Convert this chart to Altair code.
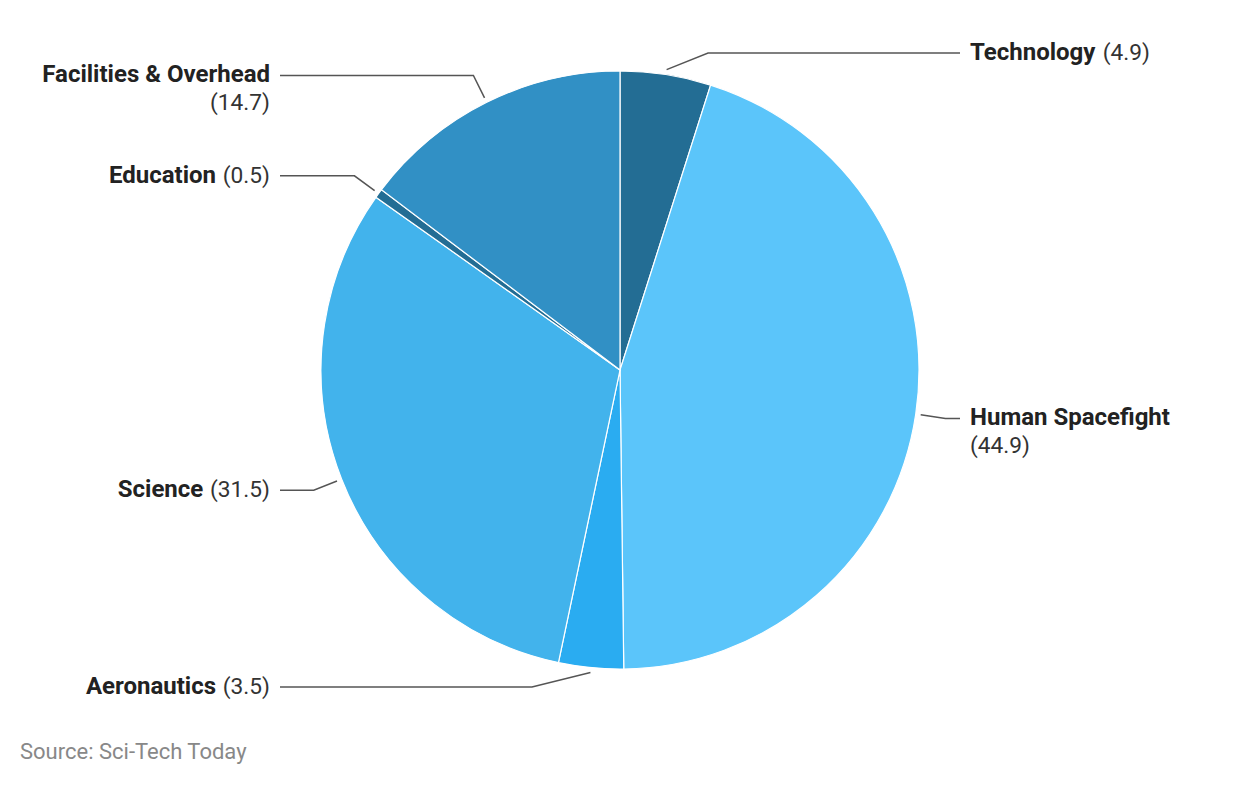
import math
import altair as alt
import pandas as pd

categories = ["Technology", "Human Spacefight", "Aeronautics", "Science", "Education", "Facilities & Overhead"]
values = [4.9, 44.9, 3.5, 31.5, 0.5, 14.7]
colors = ["#236d94", "#5bc5fa", "#2aacf1", "#42b3ec", "#236d94", "#3190c5"]
source_text = "Source: Sci-Tech Today"

# layout (page coordinates)
W, H, M = 1224, 770, 8
CX, CY, R = 620, 370, 299
RL = R + 30          # radius of the leader elbows
YLIM = 317           # max vertical distance of a label row from centre
FS, FSB = 22.7, 24
LEFT_END, RIGHT_END = 280, 960
LEFT_TXT, RIGHT_TXT = 270, 970
LINE_H = 28

# approximate Roboto advance widths (em)
REG = {"(": 0.342, ")": 0.348, ".": 0.263, " ": 0.248}
for d in "0123456789":
    REG[d] = 0.562
BOLD = {"T": 0.60, "e": 0.54, "c": 0.53, "h": 0.56, "n": 0.56, "o": 0.57, "l": 0.26, "g": 0.56,
        "y": 0.50, "H": 0.71, "u": 0.56, "m": 0.88, "a": 0.55, " ": 0.25, "S": 0.61, "p": 0.56,
        "f": 0.36, "i": 0.26, "t": 0.34, "A": 0.67, "r": 0.36, "s": 0.52, "E": 0.53, "d": 0.56,
        "F": 0.53, "&": 0.64, "O": 0.69, "v": 0.50}


def width(s, table, size):
    return sum(table.get(ch, 0.55) for ch in s) * size


df = pd.DataFrame({"cat": categories, "val": values, "idx": range(len(values))})

line_rows, text_rows = [], []
total = sum(values)
cum = 0.0
for i, (c, v) in enumerate(zip(categories, values)):
    th = (cum + v / 2) / total * 2 * math.pi
    cum += v
    s, co = math.sin(th), math.cos(th)
    side = 1 if s >= 0 else -1
    sx, sy = CX + (R + 5) * s, CY - (R + 5) * co
    dy = max(-YLIM, min(YLIM, -RL * co))
    ey = CY + dy
    ex = CX + side * math.sqrt(RL ** 2 - dy ** 2)
    tx = RIGHT_END if side > 0 else LEFT_END
    for k, (x, y) in enumerate([(sx, sy), (ex, ey), (tx, ey)]):
        line_rows.append({"cat": c, "k": k, "x": x, "y": y})
    vtxt = f"({v})"
    wrap = len(c) > 14
    if side > 0:
        text_rows.append({"t": c, "x": RIGHT_TXT, "y": ey, "w": "bold", "side": "R"})
        if wrap:
            text_rows.append({"t": vtxt, "x": RIGHT_TXT, "y": ey + LINE_H, "w": "normal", "side": "R"})
        else:
            text_rows.append({"t": vtxt, "x": RIGHT_TXT + width(c, BOLD, FSB) + 0.3 * FS, "y": ey,
                              "w": "normal", "side": "R"})
    else:
        if wrap:
            text_rows.append({"t": c, "x": LEFT_TXT, "y": ey, "w": "bold", "side": "L"})
            text_rows.append({"t": vtxt, "x": LEFT_TXT, "y": ey + LINE_H, "w": "normal", "side": "L"})
        else:
            text_rows.append({"t": vtxt, "x": LEFT_TXT, "y": ey, "w": "normal", "side": "L"})
            text_rows.append({"t": c, "x": LEFT_TXT - width(vtxt, REG, FS) - 0.3 * FS, "y": ey,
                              "w": "bold", "side": "L"})

text_rows.append({"t": source_text, "x": 20, "y": 752, "w": "src", "side": "S"})

lines_df = pd.DataFrame(line_rows)
text_df = pd.DataFrame(text_rows)

xs = alt.Scale(domain=[M, M + W])
ys = alt.Scale(domain=[M, M + H], reverse=True)

pie = alt.Chart(df).mark_arc(radius=R, stroke="white", strokeWidth=1.2).encode(
    theta=alt.Theta("val:Q", stack=True),
    order=alt.Order("idx:Q"),
    color=alt.Color("cat:N", scale=alt.Scale(domain=categories, range=colors), legend=None),
    x=alt.value(CX - M),
    y=alt.value(CY - M),
)

leaders = alt.Chart(lines_df).mark_line(color="#555555", strokeWidth=1.5).encode(
    x=alt.X("x:Q", scale=xs, axis=None),
    y=alt.Y("y:Q", scale=ys, axis=None),
    detail="cat:N",
    order="k:Q",
)


def txt(side, weight, align, color="#222222", size=FS):
    return alt.Chart(text_df).transform_filter(
        (alt.datum.side == side) & (alt.datum.w == weight)
    ).mark_text(align=align, baseline="middle", font="Roboto", fontSize=size,
                fontWeight="bold" if weight == "bold" else "normal", color=color).encode(
        x=alt.X("x:Q", scale=xs, axis=None),
        y=alt.Y("y:Q", scale=ys, axis=None),
        text="t:N",
    )


layers = [pie, leaders,
          txt("R", "bold", "left", size=FSB), txt("R", "normal", "left", "#333333"),
          txt("L", "bold", "right", size=FSB), txt("L", "normal", "right", "#333333"),
          txt("S", "src", "left", "#888888", 22)]

chart = alt.layer(*layers).properties(
    width=W, height=H, padding=0, autosize=alt.AutoSizeParams(type="none")
).configure_view(stroke=None)

chart.save("out.html", embed_options={"renderer": "svg", "actions": False})
